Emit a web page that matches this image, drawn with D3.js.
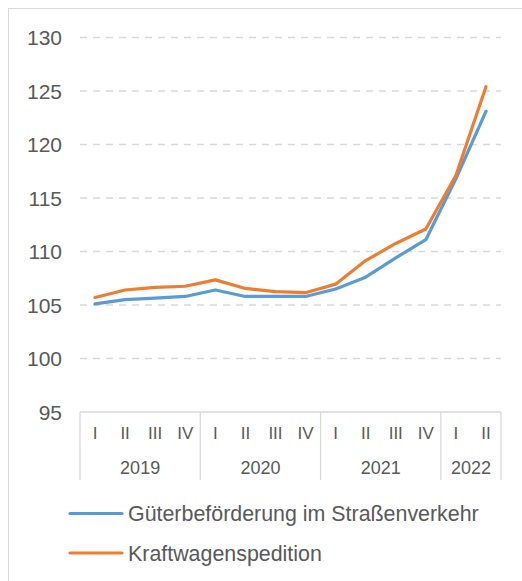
<!DOCTYPE html>
<html><head><meta charset="utf-8">
<script src="https://cdn.jsdelivr.net/npm/d3@7"></script>
<style>body{margin:0;background:#fff}svg{display:block;font-family:"Liberation Sans",Arial,sans-serif}</style>
</head><body>
<script>
const years = ["2019","2020","2021","2022"];
const quarters = ["I","II","III","IV","I","II","III","IV","I","II","III","IV","I","II"];
const yearOf = [0,0,0,0,1,1,1,1,2,2,2,2,3,3];
const yTicks = [95,100,105,110,115,120,125,130];
const seriesNames = ["Güterbeförderung im Straßenverkehr","Kraftwagenspedition"];
const gueter = [105.1,105.5,105.65,105.8,106.4,105.8,105.8,105.8,106.5,107.6,109.4,111.1,116.8,123.1];
const spedition = [105.7,106.4,106.65,106.75,107.35,106.55,106.25,106.15,106.95,109.15,110.75,112.1,117.1,125.4];
const colors = ["#5B9BD5","#ED7D31"];

const W=522,H=581;
const svg=d3.select("body").append("svg").attr("width",W).attr("height",H);
svg.append("rect").attr("x",8.5).attr("y",8.5).attr("width",W).attr("height",H).attr("fill","#fff").attr("stroke","#d9d9d9");

const pLeft=80,pRight=501,pTop=37.5,pBottom=412;
const idx=d3.range(quarters.length);
const x=d3.scaleBand().domain(idx).range([pLeft,pRight]);
const y=d3.scaleLinear().domain([95,130]).range([pBottom,pTop]);

// gridlines
svg.append("g").selectAll("line").data(yTicks.filter(t=>t>95)).join("line")
  .attr("x1",pLeft).attr("x2",pRight).attr("y1",d=>y(d)).attr("y2",d=>y(d))
  .attr("stroke","#d9d9d9").attr("stroke-width",1.3).attr("stroke-dasharray","7,6");

// y labels
svg.append("g").selectAll("text").data(yTicks).join("text")
  .attr("x",62).attr("y",d=>y(d)).attr("dy","0.36em").attr("text-anchor","end")
  .attr("font-size",21).attr("fill","#595959").text(d=>d);

// category axis
const ax=svg.append("g");
ax.append("line").attr("x1",pLeft).attr("x2",pRight).attr("y1",pBottom).attr("y2",pBottom).attr("stroke","#d9d9d9").attr("stroke-width",1.3);
const bounds=[0,4,8,12,14];
bounds.forEach(b=>{
  const xx = b<quarters.length ? x(b) : x(quarters.length-1)+x.bandwidth();
  ax.append("line").attr("x1",xx).attr("x2",xx).attr("y1",pBottom).attr("y2",480).attr("stroke","#d9d9d9").attr("stroke-width",1.3);
});
ax.selectAll("text.q").data(idx).join("text").attr("class","q")
  .attr("x",i=>x(i)+x.bandwidth()/2).attr("y",433).attr("dy","0.36em").attr("text-anchor","middle")
  .attr("font-size",17).attr("fill","#595959").text(i=>quarters[i]);
ax.selectAll("text.yr").data(years).join("text").attr("class","yr")
  .attr("x",(d,k)=>{const s=idx.filter(i=>yearOf[i]===k);return (x(s[0])+x(s[s.length-1])+x.bandwidth())/2;})
  .attr("y",468).attr("dy","0.36em").attr("text-anchor","middle")
  .attr("font-size",18).attr("fill","#595959").text(d=>d);

// lines
const line=d3.line().x((d,i)=>x(i)+x.bandwidth()/2).y(d=>y(d));
[gueter,spedition].forEach((s,k)=>{
  svg.append("path").datum(s).attr("d",line).attr("fill","none").attr("stroke",colors[k])
    .attr("stroke-width",3.2).attr("stroke-linejoin","round").attr("stroke-linecap","round");
});

// legend
const ly=[513.5,553];
seriesNames.forEach((n,k)=>{
  svg.append("line").attr("x1",70).attr("x2",122).attr("y1",ly[k]).attr("y2",ly[k]).attr("stroke",colors[k]).attr("stroke-width",3.2).attr("stroke-linecap","round");
  svg.append("text").attr("x",128).attr("y",ly[k]).attr("dy","0.36em").attr("font-size",21.4).attr("fill","#595959").text(n);
});
</script>
</body></html>
